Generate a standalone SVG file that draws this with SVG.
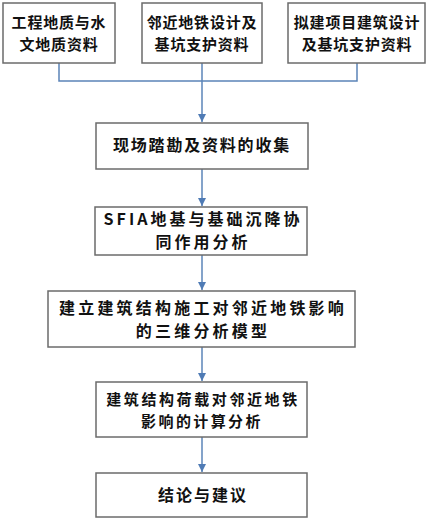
<svg xmlns="http://www.w3.org/2000/svg" width="430" height="520" viewBox="0 0 430 520">
<defs>
<marker id="ah" viewBox="0 0 10 10" refX="10" refY="5" markerWidth="8" markerHeight="8" markerUnits="userSpaceOnUse" orient="auto">
<path d="M0,0 L10,5 L0,10 z" fill="#4F7BB5"/>
</marker>
<style>
.box{fill:#fff;stroke:#6b6b6b;stroke-width:1.5}
.t{font-family:"Noto Sans CJK SC","Liberation Sans",sans-serif;font-size:16px;font-weight:bold;fill:#111;text-anchor:middle}
.s{font-size:15px}
.c{fill:none;stroke:#5b84b8;stroke-width:1.5}
</style>
</defs>
<rect width="430" height="520" fill="#fff"/>
<g id="connectors">
<polyline class="c" points="59,63 59,81 357,81 357,63"/>
<line class="c" x1="202" y1="63" x2="202" y2="122" marker-end="url(#ah)"/>
<line class="c" x1="202" y1="169" x2="202" y2="206" marker-end="url(#ah)"/>
<line class="c" x1="202" y1="255" x2="202" y2="290" marker-end="url(#ah)"/>
<line class="c" x1="202" y1="347" x2="202" y2="381" marker-end="url(#ah)"/>
<line class="c" x1="202" y1="437" x2="202" y2="472" marker-end="url(#ah)"/>
</g>
<g id="n1">
<rect class="box" x="3" y="3" width="112" height="60"/>
<text class="t s" x="59" y="28" letter-spacing="0.8">工程地质与水</text>
<text class="t s" x="59" y="50" letter-spacing="0.8">文地质资料</text>
</g>
<g id="n2">
<rect class="box" x="142" y="3" width="120" height="60"/>
<text class="t s" x="202" y="28" letter-spacing="0.8">邻近地铁设计及</text>
<text class="t s" x="202" y="50" letter-spacing="0.8">基坑支护资料</text>
</g>
<g id="n3">
<rect class="box" x="288" y="3" width="137" height="60"/>
<text class="t s" x="357" y="28" letter-spacing="0.8">拟建项目建筑设计</text>
<text class="t s" x="357" y="50" letter-spacing="0.8">及基坑支护资料</text>
</g>
<g id="n4">
<rect class="box" x="96" y="123" width="212" height="46"/>
<text class="t" x="202" y="151" letter-spacing="1.8">现场踏勘及资料的收集</text>
</g>
<g id="n5">
<rect class="box" x="95" y="207" width="212" height="48"/>
<text class="t" x="203" y="225" letter-spacing="3">SFIA地基与基础沉降协</text>
<text class="t" x="203" y="248" letter-spacing="3">同作用分析</text>
</g>
<g id="n6">
<rect class="box" x="48" y="291" width="307" height="56"/>
<text class="t" x="203" y="314" letter-spacing="3.2">建立建筑结构施工对邻近地铁影响</text>
<text class="t" x="203" y="337" letter-spacing="3.2">的三维分析模型</text>
</g>
<g id="n7">
<rect class="box" x="96" y="382" width="211" height="55"/>
<text class="t s" x="203" y="405" letter-spacing="2.6">建筑结构荷载对邻近地铁</text>
<text class="t s" x="202" y="427" letter-spacing="2.4">影响的计算分析</text>
</g>
<g id="n8">
<rect class="box" x="96" y="473" width="211" height="44"/>
<text class="t" x="203" y="501" letter-spacing="2">结论与建议</text>
</g>
</svg>
